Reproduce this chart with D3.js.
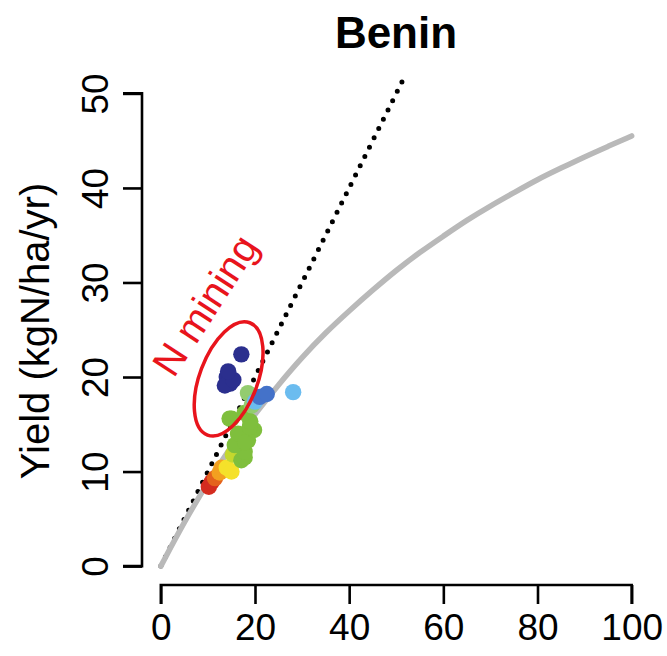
<!DOCTYPE html>
<html>
<head>
<meta charset="utf-8">
<script src="https://cdn.jsdelivr.net/npm/d3@7"></script>
<style>
  html, body { margin: 0; padding: 0; background: #fff; }
  svg { display: block; }
  text { font-family: "Liberation Sans", Arial, Helvetica, sans-serif; }
</style>
</head>
<body>
<script>
// Country panel: crop yield vs. nitrogen input, with the 1:1 line and a response curve
const title = "Benin";
const yLabel = "Yield (kgN/ha/yr)";
const xTicks = [0, 20, 40, 60, 80, 100];
const yTicks = [0, 10, 20, 30, 40, 50];

// Yield response curve (N input -> yield)
const curveInput = [0, 5, 10, 15, 20, 25, 30, 35, 40, 45, 50, 55, 60, 65, 70, 75, 80, 85, 90, 95, 100];
const curveYield = [0, 4.7, 8.9, 12.7, 16.1, 19.2, 22.1, 24.7, 27.0, 29.2, 31.3, 33.2, 34.9, 36.6, 38.1, 39.5, 40.9, 42.1, 43.3, 44.4, 45.5];

// 1:1 line end points
const oneToOne = [0, 52];

// Yearly observations, oldest first
const obsInput = [10.2, 10.8, 11.5, 12.5, 12.9, 14.0, 15.0, 15.3,
  17.1, 17.8, 17.8, 15.7, 18.5, 16.4, 17.9, 19.8, 18.9, 19.0, 14.6, 15.0, 17.8,
  18.5, 19.3, 20.0, 28.1, 21.0, 22.5,
  14.0, 14.7, 13.6, 15.4, 14.3, 17.1];
const obsYield = [8.4, 8.9, 9.3, 9.9, 10.4, 10.4, 10.0, 11.8,
  11.2, 11.5, 12.1, 12.8, 13.3, 14.0, 13.1, 14.4, 14.7, 15.3, 15.6, 15.6, 16.2,
  18.3, 17.0, 17.4, 18.4, 17.9, 18.2,
  20.0, 19.3, 19.1, 19.7, 20.6, 22.4];
const obsGroup = [0, 0, 1, 2, 2, 3, 3, 4,
  5, 5, 5, 5, 5, 5, 5, 5, 5, 5, 5, 5, 5,
  6, 6, 7, 7, 8, 8,
  9, 9, 9, 9, 9, 9];
const groupColors = ["#d42c1f", "#e4621d", "#f3a020", "#f5e12a", "#c4d82e",
  "#7fbf3d", "#93cc70", "#6bbcef", "#4472c9", "#2b2f8e"];

// Annotation (data units)
const noteText = "N mining";
const notePos = [9.4, 27.6];
const ellipseCenter = [14.4, 19.8];

const W = 667, H = 656;
const svg = d3.select("body").append("svg").attr("width", W).attr("height", H);

// Plot region with 4% padding around the data range
const x = d3.scaleLinear().domain([-4, 104]).range([142, 650.5]);
const y = d3.scaleLinear().domain([-2, 52]).range([585, 74.5]);

svg.append("defs").append("clipPath").attr("id", "plotclip")
  .append("rect").attr("x", 142).attr("y", 74.5).attr("width", 508.5).attr("height", 510.5);

const plot = svg.append("g").attr("clip-path", "url(#plotclip)");

// 1:1 dotted line
plot.append("line")
  .attr("x1", x(oneToOne[0])).attr("y1", y(oneToOne[0]))
  .attr("x2", x(oneToOne[1])).attr("y2", y(oneToOne[1]))
  .attr("stroke", "#000").attr("stroke-width", 5)
  .attr("stroke-linecap", "round").attr("stroke-dasharray", "0 10.4");

// response curve
const line = d3.line().x((d, i) => x(curveInput[i])).y(d => y(d)).curve(d3.curveBasis);
plot.append("path").datum(curveYield)
  .attr("d", line).attr("fill", "none")
  .attr("stroke", "#b9b9b9").attr("stroke-width", 5.5).attr("stroke-linecap", "round");

// observations
plot.selectAll("circle.obs").data(obsInput).enter().append("circle")
  .attr("class", "obs")
  .attr("cx", d => x(d))
  .attr("cy", (d, i) => y(obsYield[i]))
  .attr("r", 8.2)
  .attr("fill", (d, i) => groupColors[obsGroup[i]]);

// annotation
svg.append("ellipse")
  .attr("transform", `translate(${x(ellipseCenter[0])},${y(ellipseCenter[1])}) rotate(20.6)`)
  .attr("rx", 29).attr("ry", 60)
  .attr("fill", "none").attr("stroke", "#e8141c").attr("stroke-width", 3.5);

svg.append("text")
  .attr("transform", `translate(${x(notePos[0])},${y(notePos[1])}) rotate(-57)`)
  .attr("text-anchor", "middle").attr("dy", "0.35em")
  .attr("font-size", 40).attr("fill", "#e8141c")
  .text(noteText);

// axes
const xAxis = d3.axisBottom(x).tickValues(xTicks).tickSize(19).tickPadding(10).tickFormat(d3.format("d"));
const gx = svg.append("g").attr("transform", "translate(0,585)").call(xAxis);
gx.select(".domain").attr("d", `M${x(0)},19V0H${x(100)}V19`);
gx.selectAll("line, path").attr("stroke", "#000").attr("stroke-width", 2.6);
gx.selectAll("text").attr("font-size", 37).attr("fill", "#000").attr("font-family", null);

const yAxis = d3.axisLeft(y).tickValues(yTicks).tickSize(19).tickFormat(d3.format("d"));
const gy = svg.append("g").attr("transform", "translate(142,0)").call(yAxis);
gy.select(".domain").attr("d", `M-19,${y(0)}H0V${y(50)}H-19`);
gy.selectAll("line, path").attr("stroke", "#000").attr("stroke-width", 2.6);
gy.selectAll(".tick text")
  .attr("x", null).attr("dy", null)
  .attr("transform", "translate(-34,0) rotate(-90)")
  .attr("text-anchor", "middle")
  .attr("font-size", 37).attr("fill", "#000").attr("font-family", null);

// titles
svg.append("text").attr("x", 396).attr("y", 48)
  .attr("text-anchor", "middle").attr("font-size", 44).attr("font-weight", "bold")
  .text(title);

svg.append("text")
  .attr("transform", "translate(49,331) rotate(-90)")
  .attr("text-anchor", "middle").attr("font-size", 40)
  .text(yLabel);
</script>
</body>
</html>
